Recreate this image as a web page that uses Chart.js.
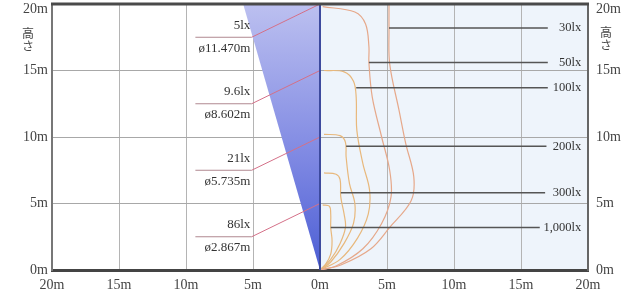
<!DOCTYPE html>
<html>
<head>
<meta charset="utf-8">
<script src="https://cdn.jsdelivr.net/npm/chart.js@4.4.0/dist/chart.umd.min.js"></script>
<style>
  html, body { margin: 0; padding: 0; background: #fff; }
  #wrap { width: 628px; height: 295px; position: relative; }
</style>
</head>
<body>
<div id="wrap"><canvas id="c"></canvas></div>
<script>
// ejes (m)
const xTickValues = [-20, -15, -10, -5, 0, 5, 10, 15, 20];
const yTickValues = [0, 5, 10, 15, 20];
const axisTitle = "高さ";

// haz de luz (lado izquierdo)
const beamHeights = [5, 10, 15, 20];
const beamLux = ["86lx", "21lx", "9.6lx", "5lx"];
const beamDiameters = ["ø2.867m", "ø5.735m", "ø8.602m", "ø11.470m"];
const beamRadiusTop = 5.735;

// curvas isolux (lado derecho), puntos [x, y] en metros
const iso30 = [[5.15, 20], [5.15, 18.2], [5.2, 15.5], [5.9, 12], [6.4, 9.5], [7.0, 7.0], [6.8, 5.2], [5.2, 3.2], [3.8, 1.6], [1.6, 0.4], [0, 0]];
const iso50 = [[0.2, 19.8], [2.6, 19.4], [3.4, 18.5], [3.65, 16.8], [3.65, 15.6], [3.9, 13], [4.6, 10], [5.2, 7.5], [5.3, 5.5], [4.6, 3.5], [3.2, 1.6], [1.2, 0.3], [0, 0]];
const iso100 = [[0.3, 15], [1.8, 14.9], [2.5, 14.2], [2.7, 13], [2.75, 10.5], [3.2, 8], [3.7, 6], [3.6, 4.2], [2.8, 2.4], [1.5, 0.8], [0, 0]];
const iso200 = [[0.3, 10.2], [1.5, 10.1], [1.9, 9.6], [1.95, 8.5], [2.2, 6.5], [2.6, 5], [2.5, 3.5], [1.8, 2], [0.8, 0.6], [0, 0]];
const iso300 = [[0.3, 7.3], [1.2, 7.2], [1.5, 6.8], [1.55, 5.5], [1.8, 4.2], [1.9, 3.2], [1.5, 2], [0.8, 0.8], [0, 0]];
const iso1000 = [[0.2, 4.9], [0.7, 4.8], [0.8, 4.2], [0.8, 3.2], [0.9, 2.2], [0.8, 1.2], [0.4, 0.4], [0, 0]];

const isoLabels = ["30lx", "50lx", "100lx", "200lx", "300lx", "1,000lx"];
const isoLeaderX = [5.15, 3.65, 2.7, 1.95, 1.55, 0.8];
const isoLeaderY = [18.2, 15.6, 13.7, 9.3, 5.8, 3.2];

const serif = "'Liberation Serif', 'DejaVu Serif', serif";
const leaderEnd = [17.0, 17.0, 17.0, 16.9, 16.8, 16.4];
const labelRight = 19.5;

const pts = arr => arr.map(p => ({ x: p[0], y: p[1] }));

const datasets = [];

// haz
datasets.push({
  data: pts([[-beamRadiusTop, 20], [0, 0]]),
  showLine: true,
  borderWidth: 0,
  pointRadius: 0,
  fill: "end",
  order: 5,
  backgroundColor: c => {
    const { ctx, chartArea } = c.chart;
    if (!chartArea) return "rgba(120,130,220,0.8)";
    const g = ctx.createLinearGradient(0, chartArea.top, 0, chartArea.bottom);
    g.addColorStop(0, "#bcc0f0");
    g.addColorStop(0.6, "#7c86e2");
    g.addColorStop(1, "#4c5ed4");
    return g;
  }
});
datasets.push({
  data: pts([[0, 0], [0, 20]]),
  showLine: true, borderColor: "#3d4a9e", borderWidth: 2, pointRadius: 0, order: 1
});

// etiquetas del haz: subrayado y línea guía
beamHeights.forEach(h => {
  datasets.push({
    data: pts([[-9.3, h - 2.5], [-5.1, h - 2.5]]),
    showLine: true, borderColor: "#b08890", borderWidth: 1, pointRadius: 0, order: 2
  });
  datasets.push({
    data: pts([[-5.1, h - 2.5], [0, h]]),
    showLine: true, borderColor: "#d47088", borderWidth: 1, pointRadius: 0, order: 2
  });
});

// curvas isolux
[iso30, iso50, iso100, iso200, iso300, iso1000].forEach((curva, i) => {
  datasets.push({
    data: pts(curva),
    showLine: true,
    borderColor: i < 2 ? "#e6a88a" : "#e8b87c",
    borderWidth: 1.2,
    pointRadius: 0,
    tension: 0.35,
    order: 3
  });
});

// líneas guía isolux
isoLabels.forEach((l, i) => {
  datasets.push({
    data: pts([[isoLeaderX[i], isoLeaderY[i]], [leaderEnd[i], isoLeaderY[i]]]),
    showLine: true, borderColor: "#555", borderWidth: 1.5, pointRadius: 0, order: 2
  });
});

const fondoDerecho = {
  id: "fondoDerecho",
  beforeDraw(chart) {
    const { ctx, scales } = chart;
    const x0 = scales.x.getPixelForValue(0), x1 = scales.x.getPixelForValue(20);
    const yTop = scales.y.getPixelForValue(20), yBot = scales.y.getPixelForValue(0);
    ctx.save();
    ctx.fillStyle = "#eef4fb";
    ctx.fillRect(x0, yTop, x1 - x0, yBot - yTop);
    ctx.restore();
  }
};

const textos = {
  id: "textos",
  afterDraw(chart) {
    const { ctx, scales, chartArea } = chart;
    const X = v => scales.x.getPixelForValue(v);
    const Y = v => scales.y.getPixelForValue(v);
    ctx.save();
    // borde superior
    ctx.strokeStyle = "#4a4a4a";
    ctx.lineWidth = 3;
    ctx.beginPath();
    ctx.moveTo(chartArea.left - 1, chartArea.top);
    ctx.lineTo(chartArea.right + 1, chartArea.top);
    ctx.stroke();

    ctx.fillStyle = "#333";
    ctx.font = "13px " + serif;
    ctx.textAlign = "right";
    ctx.textBaseline = "middle";
    beamHeights.forEach((h, i) => {
      ctx.fillText(beamLux[i], X(-5.2), Y(h - 2.5) - 12);
      ctx.fillText(beamDiameters[i], X(-5.2), Y(h - 2.5) + 11);
    });
    ctx.font = "12.5px " + serif;
    isoLabels.forEach((l, i) => {
      ctx.fillText(l, X(labelRight), Y(isoLeaderY[i]));
    });

    ctx.fillStyle = "#444";
    ctx.font = "12px 'Noto Sans CJK JP', sans-serif";
    ctx.textAlign = "center";
    [...axisTitle].forEach((ch, i) => {
      ctx.fillText(ch, 28, 33 + i * 13);
      ctx.fillText(ch, 606, 32 + i * 13);
    });
    ctx.restore();
  }
};

const tickFont = { family: serif, size: 14, lineHeight: 0.8 };
// la etiqueta superior va un poco por debajo de su marca
const yLabel = v => v === 20 ? ["", "20m"] : v + "m";

new Chart(document.getElementById("c"), {
  type: "scatter",
  data: { datasets },
  plugins: [fondoDerecho, textos],
  options: {
    responsive: true,
    maintainAspectRatio: false,
    animation: false,
    layout: { padding: { top: 4, left: 0, right: 0, bottom: 0 } },
    plugins: { legend: { display: false }, tooltip: { enabled: false } },
    scales: {
      x: {
        type: "linear", min: -20, max: 20,
        afterBuildTicks: s => { s.ticks = xTickValues.map(v => ({ value: v })); },
        afterFit: s => { s.height = 25; s.paddingLeft = 0; s.paddingRight = 0; },
        ticks: { font: { family: serif, size: 14 }, color: "#444", padding: 7, callback: v => Math.abs(v) + "m" },
        grid: { color: "#b4b4b4", lineWidth: 1, drawTicks: false },
        border: { color: "#444", width: 3 }
      },
      y: {
        type: "linear", min: 0, max: 20, position: "left",
        afterBuildTicks: s => { s.ticks = yTickValues.map(v => ({ value: v })); },
        afterFit: s => { s.width = 52; s.paddingTop = 0; s.paddingBottom = 0; },
        ticks: { font: tickFont, color: "#444", padding: 4, callback: yLabel },
        grid: { color: "#a8a8a8", lineWidth: 1, drawTicks: false },
        border: { color: "#777", width: 2 }
      },
      y2: {
        type: "linear", min: 0, max: 20, position: "right",
        afterBuildTicks: s => { s.ticks = yTickValues.map(v => ({ value: v })); },
        afterFit: s => { s.width = 40; s.paddingTop = 0; s.paddingBottom = 0; },
        ticks: { font: tickFont, color: "#444", padding: 8, callback: yLabel },
        grid: { display: false, drawTicks: false },
        border: { color: "#666", width: 2 }
      }
    }
  }
});
</script>
</body>
</html>
